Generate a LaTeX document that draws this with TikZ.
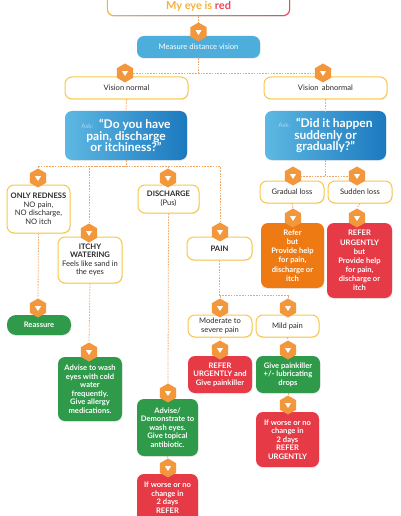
\documentclass[tikz,border=0pt]{standalone}
\usepackage{fontspec}
\setmainfont{Lato}
\usetikzlibrary{shapes.geometric,calc,shadows}
\definecolor{hexc}{HTML}{F3973C}
\definecolor{lineo}{HTML}{F4A867}
\definecolor{ybord}{HTML}{F8C84C}
\definecolor{bluem}{HTML}{4DAEDB}
\definecolor{bluel}{HTML}{5DB8E2}
\definecolor{blued}{HTML}{1C79BF}
\definecolor{asklt}{HTML}{A9D9F2}
\definecolor{grn}{HTML}{2E9A4A}
\definecolor{rd}{HTML}{E63A47}
\definecolor{org}{HTML}{EE7A14}
\definecolor{dtext}{HTML}{2A2A2A}
\definecolor{ttlo}{HTML}{F6B13A}
\definecolor{ttlr}{HTML}{E9475A}
\tikzset{
  sz/.style 2 args={minimum width=#1pt, minimum height=#2pt},
  base/.style={rounded corners=7pt, align=center, inner sep=0pt,
    font=\fontsize{7.6}{8.5}\selectfont,
    drop shadow={opacity=0.13, shadow xshift=0.6pt, shadow yshift=-1pt}},
  wbox/.style={base, draw=ybord, line width=1pt, fill=white, text=dtext},
  bbox/.style={base, fill=bluem, text=white},
  abox/.style={base, left color=bluel, right color=blued, text=white,
    font=\bfseries\fontsize{12}{11.6}\selectfont},
  gbox/.style={base, fill=grn, text=white, font=\bfseries\fontsize{7.6}{8.5}\selectfont},
  rbox/.style={base, fill=rd, text=white, font=\bfseries\fontsize{7.6}{8.5}\selectfont},
  obox/.style={base, fill=org, text=white, font=\bfseries\fontsize{7.6}{9.2}\selectfont},
  hx/.style={regular polygon, regular polygon sides=6, shape border rotate=30,
    minimum size=19pt, inner sep=0pt, fill=hexc,
    path picture={\fill[white] ($(path picture bounding box.center)+(-3pt,1.8pt)$)
      -- ++(6pt,0pt) -- ++(-3pt,-4.8pt) -- cycle;}},
  conn/.style={draw=lineo, line width=0.8pt, dash pattern=on 1.6pt off 1.2pt}
}
\begin{document}
\begin{tikzpicture}[x=1pt,y=-1pt]
\clip (0,0) rectangle (400,516);
\fill[white] (0,0) rectangle (400,516);

% ---------- boxes ----------
\node[base, fill=white, sz={183}{26}] (title) at (198.5,3) {};
\shade[left color=ttlo, right color=ttlr, even odd rule]
  [rounded corners=7pt] (title.south west) rectangle (title.north east)
  [rounded corners=6pt] ($(title.south west)+(1.1pt,1.1pt)$) rectangle ($(title.north east)+(-1.1pt,-1.1pt)$);
\node[anchor=base, inner sep=0pt, font=\bfseries\fontsize{11}{13}\selectfont] (ttxt) at (198.5,9.6)
  {{\color{ttlo}My eye is }{\color{ttlr}red}};

\node[bbox, sz={123}{22}] (meas) at (198.5,47) {Measure distance vision};
\node[wbox, sz={123}{22}] (vn) at (126.5,88) {Vision normal};
\node[wbox, sz={123}{22}] (va) at (325.5,88) {Vision \,abnormal};

\node[abox, sz={122}{49}] (ask1) at (126,135.5)
  {{\mdseries\fontsize{6.3}{7}\selectfont\color{asklt}Ask:}\ \ “Do you have\\pain, discharge\\or itchiness?”};
\node[abox, sz={121}{49}] (ask2) at (325.5,135.5)
  {{\mdseries\fontsize{6.3}{7}\selectfont\color{asklt}Ask:}\ \ “Did it happen\\suddenly or\\gradually?”};

\node[wbox, sz={63}{48}] (only) at (38.5,209)
  {{\bfseries ONLY REDNESS}\\NO pain,\\NO discharge,\\NO itch};
\node[wbox, sz={61}{28}] (dis) at (168.5,199) {{\bfseries DISCHARGE}\\(Pus)};
\node[wbox, sz={64}{46}] (itchy) at (90,260)
  {{\bfseries ITCHY}\\{\bfseries WATERING}\\Feels like sand in\\the eyes};
\node[wbox, sz={65}{23}] (pain) at (219.5,248.5) {\bfseries PAIN};

\node[wbox, sz={64}{22}] (grad) at (292,192) {Gradual loss};
\node[wbox, sz={64}{22}] (sud) at (360,192) {Sudden loss};
\node[obox, sz={63}{65}] (refer) at (292.5,255.5)
  {Refer\\but\\Provide help\\for pain,\\discharge or\\itch};
\node[rbox, sz={65}{75}, font=\bfseries\fontsize{7.6}{9.1}\selectfont] (refurg) at (359.5,260.5)
  {REFER\\URGENTLY\\but\\Provide help\\for pain,\\discharge or\\itch};

\node[gbox, sz={64}{20}, rounded corners=9pt] (reas) at (39,325) {Reassure};
\node[gbox, sz={64}{64}] (adv1) at (90,389)
  {Advise to wash\\eyes with cold\\water\\frequently.\\Give allergy\\medications.};

\node[wbox, sz={64}{22}] (mod) at (220,326) {Moderate to\\severe pain};
\node[wbox, sz={63}{22}] (mild) at (287.5,326) {Mild pain};
\node[rbox, sz={64}{37}] (refpain) at (220,374.5) {REFER\\URGENTLY and\\Give painkiller};
\node[gbox, sz={64}{37}] (givepk) at (288,374.5) {Give painkiller\\+/- lubricating\\drops};
\node[rbox, sz={63}{55}] (ifw1) at (287.5,439.5) {If worse or no\\change in\\2 days\\REFER\\URGENTLY};

\node[gbox, sz={61}{57}] (adv2) at (167.5,427.5)
  {Advise/\\Demonstrate to\\wash eyes.\\Give topical\\antibiotic.};
\node[rbox, sz={61}{56}] (ifw2) at (167.5,502) {If worse or no\\change in\\2 days\\REFER\\\mbox{}};

% ---------- junctions ----------
\coordinate (j1) at ($(ask1.south)+(0,6)$);
\coordinate (j2) at ($(pain.south)+(0,35)$);

% ---------- hexagons ----------
\node[hx] (hmeas) at (198.5,32) {};
\node[hx] (hvn) at (125,73) {};
\node[hx] (hva) at (323,73) {};
\node[hx] (honly) at (38,178) {};
\node[hx] (hdis) at (168,178) {};
\node[hx] (hitchy) at (89,233) {};
\node[hx] (hpain) at (220,232) {};
\node[hx] (hgrad) at (293,176) {};
\node[hx] (hsud) at (357,176) {};
\node[hx] (hrefer) at (293,218) {};
\node[hx] (hrefurg) at (357,218) {};
\node[hx] (hreas) at (38,308) {};
\node[hx] (hadv1) at (89,352) {};
\node[hx] (hmod) at (220,308) {};
\node[hx] (hmild) at (288,308) {};
\node[hx] (hrefpain) at (220,350) {};
\node[hx] (hgivepk) at (288,350) {};
\node[hx] (hifw1) at (288,405) {};
\node[hx] (hadv2) at (168,393) {};
\node[hx] (hifw2) at (168,468) {};

% ---------- connectors ----------
\begin{scope}[conn]
\draw (title.south) -- (hmeas.north);
\draw (meas.south) |- (hvn.east);
\draw (meas.south) |- (hva.west);
\draw (vn.south) -- (ask1.north);
\draw (va.south) -- (ask2.north);
\draw (ask1.south) -- (j1) -| (honly.north);
\draw (j1) -| (hitchy.north);
\draw (j1) -| (hdis.north);
\draw (j1) -| (hpain.north);
\draw (ask2.south) |- (hgrad.east);
\draw (ask2.south) |- (hsud.west);
\draw (grad.south) -- (hrefer.north);
\draw (sud.south) -- (hrefurg.north);
\draw (only.south) -- (hreas.north);
\draw (itchy.south) -- (hadv1.north);
\draw (dis.south) -- (hadv2.north);
\draw (adv2.south) -- (hifw2.north);
\draw (pain.south) -- (j2) -| (hmod.north);
\draw (j2) -| (hmild.north);
\draw (mod.south) -- (hrefpain.north);
\draw (mild.south) -- (hgivepk.north);
\draw (givepk.south) -- (hifw1.north);
\end{scope}
\end{tikzpicture}
\end{document}
